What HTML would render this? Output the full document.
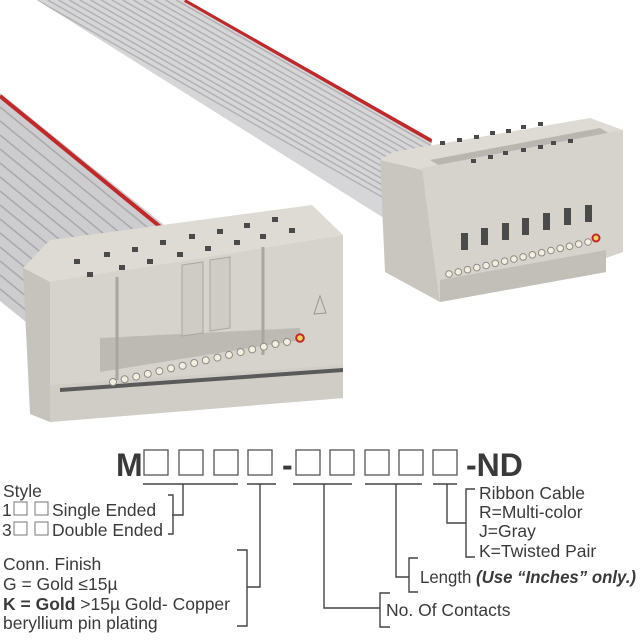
<!DOCTYPE html>
<html><head><meta charset="utf-8"><style>
html,body{margin:0;padding:0;background:#fff}
svg{display:block}
text{font-family:"Liberation Sans",sans-serif;fill:#3a3a3a}
</style></head><body>
<svg width="640" height="640" viewBox="0 0 640 640" xmlns="http://www.w3.org/2000/svg">
<defs>
<clipPath id="c1"><polygon points="37,0 187,0 432,139 420,230 395,225"/></clipPath>
<clipPath id="c2"><polygon points="0,93 174,233 100,290 26,322 0,301"/></clipPath>
</defs>
<!-- back cable -->
<g clip-path="url(#c1)">
<rect x="0" y="0" width="640" height="320" fill="#d6d6d8"/>
<g stroke="#b2b2b5" stroke-width="1.5">
<line x1="37" y1="0" x2="517" y2="274"/><line x1="47.7" y1="0" x2="527.7" y2="274"/><line x1="58.4" y1="0" x2="538.4" y2="274"/><line x1="69.1" y1="0" x2="549.1" y2="274"/><line x1="79.8" y1="0" x2="559.8" y2="274"/><line x1="90.5" y1="0" x2="570.5" y2="274"/><line x1="101.2" y1="0" x2="581.2" y2="274"/><line x1="111.9" y1="0" x2="591.9" y2="274"/><line x1="122.6" y1="0" x2="602.6" y2="274"/><line x1="133.3" y1="0" x2="613.3" y2="274"/><line x1="144" y1="0" x2="624" y2="274"/><line x1="154.7" y1="0" x2="634.7" y2="274"/><line x1="165.4" y1="0" x2="645.4" y2="274"/><line x1="176.1" y1="0" x2="656.1" y2="274"/>
</g>
<line x1="185" y1="0" x2="665" y2="274" stroke="#c0282a" stroke-width="4"/>
</g>
<!-- front cable -->
<g clip-path="url(#c2)">
<rect x="0" y="80" width="200" height="250" fill="#cdcdcf"/>
<g stroke="#a9a9ac" stroke-width="1.5">
<line x1="0" y1="107" x2="300" y2="352"/><line x1="0" y1="121" x2="300" y2="366"/><line x1="0" y1="135" x2="300" y2="380"/><line x1="0" y1="149" x2="300" y2="394"/><line x1="0" y1="163" x2="300" y2="408"/><line x1="0" y1="177" x2="300" y2="422"/><line x1="0" y1="191" x2="300" y2="436"/><line x1="0" y1="205" x2="300" y2="450"/><line x1="0" y1="219" x2="300" y2="464"/><line x1="0" y1="233" x2="300" y2="478"/><line x1="0" y1="247" x2="300" y2="492"/><line x1="0" y1="261" x2="300" y2="506"/><line x1="0" y1="275" x2="300" y2="520"/><line x1="0" y1="289" x2="300" y2="534"/>
</g>
<line x1="0" y1="96" x2="300" y2="341" stroke="#c0282a" stroke-width="4"/>
</g>

<!-- right connector -->
<polygon points="380,160 422,168 440,302 385,272" fill="#c9c5bf"/>
<polygon points="380,160 393,152 590,118 623,130 422,170" fill="#dedad4"/>
<polygon points="430,160 600,128 610,134 440,166" fill="#b9b5af"/>
<polygon points="422,168 623,130 623,252 606,258 606,272 440,302" fill="#d6d2cc"/>
<polygon points="440,280 606,250 606,272 440,302" fill="#c2beb8"/>
<g fill="#4a4a4a">
<rect x="440" y="141" width="5" height="4"/><rect x="457" y="138" width="5" height="4"/><rect x="474" y="135" width="5" height="4"/><rect x="490" y="131" width="5" height="4"/><rect x="506" y="129" width="5" height="4"/><rect x="521" y="125" width="5" height="4"/><rect x="538" y="122" width="5" height="4"/>
<rect x="471" y="159" width="5" height="4"/><rect x="488" y="155" width="5" height="4"/><rect x="503" y="151" width="5" height="4"/><rect x="521" y="148" width="5" height="4"/><rect x="538" y="145" width="5" height="4"/><rect x="551" y="141" width="5" height="4"/><rect x="568" y="139" width="5" height="4"/>
<rect x="461" y="233" width="7" height="17"/><rect x="481" y="228" width="7" height="17"/><rect x="502" y="223" width="7" height="17"/><rect x="522" y="218" width="7" height="17"/><rect x="543" y="213" width="7" height="17"/><rect x="564" y="208" width="7" height="17"/><rect x="585" y="205" width="7" height="17"/>
</g>
<g fill="#f3efe0" stroke="#8f8b85" stroke-width="1">
<circle cx="449" cy="274" r="3.3"/><circle cx="458.3" cy="271.9" r="3.3"/><circle cx="467.5" cy="269.7" r="3.3"/><circle cx="476.8" cy="267.6" r="3.3"/><circle cx="486.1" cy="265.5" r="3.3"/><circle cx="495.3" cy="263.3" r="3.3"/><circle cx="504.6" cy="261.2" r="3.3"/><circle cx="513.9" cy="259.1" r="3.3"/><circle cx="523.1" cy="256.9" r="3.3"/><circle cx="532.4" cy="254.8" r="3.3"/><circle cx="541.7" cy="252.7" r="3.3"/><circle cx="550.9" cy="250.5" r="3.3"/><circle cx="560.2" cy="248.4" r="3.3"/><circle cx="569.5" cy="246.3" r="3.3"/><circle cx="578.7" cy="244.1" r="3.3"/><circle cx="588" cy="242" r="3.3"/>
</g>
<circle cx="596" cy="238" r="3.5" fill="#f5d060" stroke="#c0282a" stroke-width="2"/>

<!-- left connector -->
<polygon points="23,268 50,240 312,205 343,235 50,282" fill="#dedad4"/>
<polygon points="23,268 50,282 50,422 30,414" fill="#c6c2bc"/>
<polygon points="50,282 343,235 343,398 50,422" fill="#d6d2cc"/>
<polygon points="50,385 343,365 343,398 50,422" fill="#d0ccc6"/>
<polygon points="60,388 343,368 343,372 60,392" fill="#5a5a5a"/>
<polygon points="100,338 300,328 300,340 100,372 " fill="#bdb9b3"/>
<line x1="117" y1="277" x2="117" y2="380" stroke="#a9a59f" stroke-width="3"/>
<line x1="263" y1="247" x2="263" y2="355" stroke="#a9a59f" stroke-width="3"/>
<polygon points="182,265 203,262 203,333 182,336" fill="#cfcbc5" stroke="#aaa6a0"/>
<polygon points="210,260 230,257 230,328 210,331" fill="#cfcbc5" stroke="#aaa6a0"/>
<polygon points="320,296 326,313 314,314" fill="none" stroke="#9a968f"/>
<g fill="#4a4a4a">
<rect x="74" y="259" width="6" height="5"/><rect x="104" y="252" width="6" height="5"/><rect x="132" y="247" width="6" height="5"/><rect x="160" y="240" width="6" height="5"/><rect x="189" y="234" width="6" height="5"/><rect x="217" y="229" width="6" height="5"/><rect x="244" y="223" width="6" height="5"/><rect x="272" y="217" width="6" height="5"/>
<rect x="87" y="272" width="6" height="5"/><rect x="119" y="265" width="6" height="5"/><rect x="147" y="259" width="6" height="5"/><rect x="177" y="252" width="6" height="5"/><rect x="205" y="246" width="6" height="5"/><rect x="234" y="240" width="6" height="5"/><rect x="260" y="234" width="6" height="5"/><rect x="289" y="228" width="6" height="5"/>
</g>
<g fill="#f3efe0" stroke="#8f8b85" stroke-width="1">
<circle cx="113" cy="382" r="3.5"/><circle cx="124.6" cy="379.3" r="3.5"/><circle cx="136.2" cy="376.6" r="3.5"/><circle cx="147.8" cy="373.9" r="3.5"/><circle cx="159.4" cy="371.1" r="3.5"/><circle cx="171" cy="368.4" r="3.5"/><circle cx="182.6" cy="365.7" r="3.5"/><circle cx="194.2" cy="363" r="3.5"/><circle cx="205.8" cy="360.3" r="3.5"/><circle cx="217.4" cy="357.6" r="3.5"/><circle cx="229" cy="354.9" r="3.5"/><circle cx="240.6" cy="352.1" r="3.5"/><circle cx="252.2" cy="349.4" r="3.5"/><circle cx="263.8" cy="346.7" r="3.5"/><circle cx="275.4" cy="344" r="3.5"/><circle cx="287" cy="342" r="3.5"/>
</g>
<circle cx="300" cy="338" r="3.8" fill="#f5d060" stroke="#c0282a" stroke-width="2"/>

<!-- part number -->
<text x="116" y="476" font-size="32" font-weight="bold" fill="#333">M</text>
<text x="466" y="476" font-size="32" font-weight="bold" fill="#333">-ND</text>
<text x="282" y="476" font-size="32" font-weight="bold" fill="#333">-</text>
<g fill="none" stroke="#555" stroke-width="1.3">
<rect x="144" y="450" width="24" height="25"/><rect x="179" y="450" width="24" height="25"/><rect x="214" y="450" width="24" height="25"/><rect x="248" y="450" width="24" height="25"/>
<rect x="296" y="450" width="24" height="25"/><rect x="330" y="450" width="24" height="25"/><rect x="365" y="450" width="24" height="25"/><rect x="399" y="450" width="24" height="25"/><rect x="433" y="450" width="24" height="25"/>
</g>
<!-- connector lines -->
<g stroke="#444" stroke-width="1.4" fill="none">
<line x1="143" y1="484" x2="238" y2="484"/><line x1="247" y1="484" x2="276" y2="484"/><line x1="293" y1="484" x2="352" y2="484"/><line x1="365" y1="484" x2="422" y2="484"/><line x1="433" y1="484" x2="457" y2="484"/>
<polyline points="183,484 183,515 172,515"/>
<polyline points="168,495 173,495 173,534 168,534"/>
<polyline points="260,484 260,587 247,587"/>
<polyline points="237,550 247,550 247,626 237,626"/>
<polyline points="324,484 324,608 380,608"/>
<polyline points="390,593 380,593 380,627 390,627"/>
<polyline points="396,484 396,577 409,577"/>
<polyline points="418,558 409,558 409,592 418,592"/>
<polyline points="447,484 447,523 466,523"/>
<polyline points="475,489 466,489 466,557 475,557"/>
</g>
<g font-size="17.5">
<text x="3" y="497">Style</text>
<text x="2" y="516">1</text>
<text x="2" y="536">3</text>
<text x="52" y="516">Single Ended</text>
<text x="52" y="536">Double Ended</text>
<text x="3" y="570">Conn. Finish</text>
<text x="3" y="590">G = Gold ≤15µ</text>
<text x="3" y="610"><tspan font-weight="bold">K = Gold</tspan> &gt;15µ Gold- Copper</text>
<text x="3" y="629">beryllium pin plating</text>
<text x="479" y="499">Ribbon Cable</text>
<text x="479" y="518">R=Multi-color</text>
<text x="479" y="537">J=Gray</text>
<text x="479" y="557">K=Twisted Pair</text>
<text x="420" y="583" textLength="216" lengthAdjust="spacingAndGlyphs">Length <tspan font-weight="bold" font-style="italic">(Use “Inches” only.)</tspan></text>
<text x="386" y="616">No. Of Contacts</text>
</g>
<g fill="none" stroke="#777" stroke-width="1">
<rect x="14" y="502" width="13" height="13"/><rect x="35" y="502" width="13" height="13"/>
<rect x="14" y="522" width="13" height="13"/><rect x="35" y="522" width="13" height="13"/>
</g>
</svg>
</body></html>
